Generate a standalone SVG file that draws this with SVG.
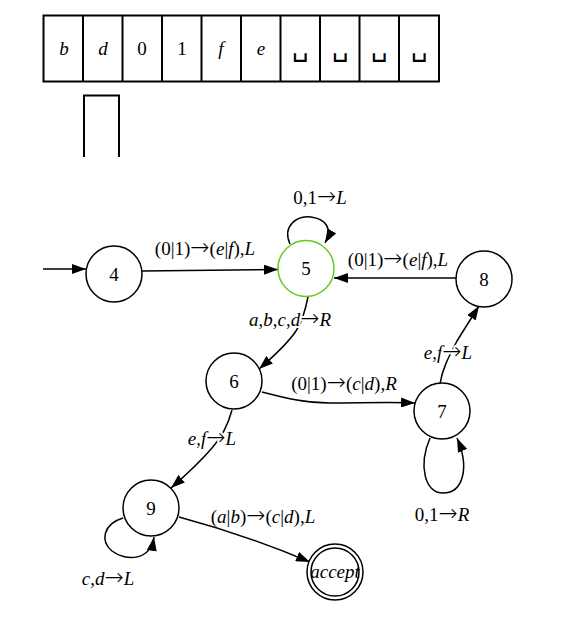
<svg xmlns="http://www.w3.org/2000/svg" width="582" height="618" viewBox="0 0 582 618">
<style>
text{font-family:"Liberation Serif","Times New Roman",serif;font-size:19px;fill:#000;text-anchor:middle}
.i{font-style:italic}
.a{font-family:"DejaVu Sans",sans-serif;font-size:23px;font-weight:200}
.bl{font-family:"DejaVu Sans",sans-serif;font-size:26px;font-weight:200}
.cell{fill:#fff;stroke:#000;stroke-width:2}
.node{fill:#fff;stroke:#000;stroke-width:1.5}
.edge{fill:none;stroke:#000;stroke-width:1.5}
.lbl{paint-order:stroke;stroke:#fff;stroke-width:4px;stroke-linejoin:round}
</style>
<defs>
<marker id="ah" viewBox="0 0 14 10" refX="14" refY="5" markerWidth="14" markerHeight="10" markerUnits="userSpaceOnUse" orient="auto">
<path d="M0,0 L14,5 L0,10 Z" fill="#000"/>
</marker>
</defs>
<g id="tape">
<rect class="cell" x="43.5" y="15.5" width="395.5" height="66"/>
<path d="M83,15.5V81.5M122.5,15.5V81.5M162,15.5V81.5M201.5,15.5V81.5M241,15.5V81.5M280.5,15.5V81.5M320,15.5V81.5M359.5,15.5V81.5M399,15.5V81.5" stroke="#000" stroke-width="2"/>
<text x="64" y="55" class="i">b</text>
<text x="103" y="55" class="i">d</text>
<text x="142" y="55">0</text>
<text x="182" y="55">1</text>
<text x="221" y="55" class="i">f</text>
<text x="261" y="55" class="i">e</text>
<text x="300" y="56" class="bl">␣</text>
<text x="340" y="56" class="bl">␣</text>
<text x="379" y="56" class="bl">␣</text>
<text x="419" y="56" class="bl">␣</text>
</g>
<g id="head">
<path d="M84,157V95.5H119V157" fill="none" stroke="#000" stroke-width="2"/>
</g>
<g id="connectors">
<path class="edge" d="M43,269 L86,269" marker-end="url(#ah)"/>
<path class="edge" d="M142,271 L278,269.5" marker-end="url(#ah)"/>
<path class="edge" d="M290,244 C282,226 297,215 311,217 C326,219 333,229 325,243" marker-end="url(#ah)"/>
<path class="edge" d="M456,278 L334,278" marker-end="url(#ah)"/>
<path class="edge" d="M308,297 C305,312 302,322 296,331 C288,343 274,356 259,369" marker-end="url(#ah)"/>
<path class="edge" d="M262,392 C285,398 305,403 330,403 C360,403 390,402 415,403" marker-end="url(#ah)"/>
<path class="edge" d="M440,384 C442,370 448,358 457,341 C465,328 472,317 479,306" marker-end="url(#ah)"/>
<path class="edge" d="M430,438 C418,466 425,493 443,493 C463,493 470,468 457,438" marker-end="url(#ah)"/>
<path class="edge" d="M232,410 C228,425 222,437 212,448 C200,462 186,475 171,488" marker-end="url(#ah)"/>
<path class="edge" d="M123,518 C103,524 100,541 112,551 C125,561 150,562 154,537" marker-end="url(#ah)"/>
<path class="edge" d="M179,517 C220,528 265,543 310,562" marker-end="url(#ah)"/>
<text x="205" y="255">(0|1)<tspan class="a">→</tspan>(<tspan class="i">e</tspan>|<tspan class="i">f</tspan>),<tspan class="i">L</tspan></text>
<text x="320" y="204">0,1<tspan class="a">→</tspan><tspan class="i">L</tspan></text>
<text x="398" y="266">(0|1)<tspan class="a">→</tspan>(<tspan class="i">e</tspan>|<tspan class="i">f</tspan>),<tspan class="i">L</tspan></text>
<text x="290" y="326" class="lbl"><tspan class="i">a</tspan>,<tspan class="i">b</tspan>,<tspan class="i">c</tspan>,<tspan class="i">d</tspan><tspan class="a">→</tspan><tspan class="i">R</tspan></text>
<text x="344" y="390">(0|1)<tspan class="a">→</tspan>(<tspan class="i">c</tspan>|<tspan class="i">d</tspan>),<tspan class="i">R</tspan></text>
<text x="448" y="359" class="lbl"><tspan class="i">e</tspan>,<tspan class="i">f</tspan><tspan class="a">→</tspan><tspan class="i">L</tspan></text>
<text x="442" y="521">0,1<tspan class="a">→</tspan><tspan class="i">R</tspan></text>
<text x="212" y="445" class="lbl"><tspan class="i">e</tspan>,<tspan class="i">f</tspan><tspan class="a">→</tspan><tspan class="i">L</tspan></text>
<text x="108" y="585"><tspan class="i">c</tspan>,<tspan class="i">d</tspan><tspan class="a">→</tspan><tspan class="i">L</tspan></text>
<text x="263" y="523">(<tspan class="i">a</tspan>|<tspan class="i">b</tspan>)<tspan class="a">→</tspan>(<tspan class="i">c</tspan>|<tspan class="i">d</tspan>),<tspan class="i">L</tspan></text>
</g>
<g id="n4"><circle class="node" cx="114" cy="274" r="28"/><text x="114" y="281">4</text></g>
<g id="n5"><circle class="node" cx="306" cy="268.5" r="28" style="stroke:#66c91a"/><text x="306" y="275">5</text></g>
<g id="n8"><circle class="node" cx="484" cy="279" r="28"/><text x="484" y="286">8</text></g>
<g id="n6"><circle class="node" cx="234" cy="381" r="28"/><text x="234" y="388">6</text></g>
<g id="n7"><circle class="node" cx="442" cy="411" r="28"/><text x="442" y="418">7</text></g>
<g id="n9"><circle class="node" cx="151" cy="508" r="28"/><text x="151" y="515">9</text></g>
<g id="accept"><circle class="node" cx="335" cy="572" r="28"/><circle class="node" cx="335" cy="572" r="24"/><text x="335" y="578" class="i">accept</text></g>
</svg>
